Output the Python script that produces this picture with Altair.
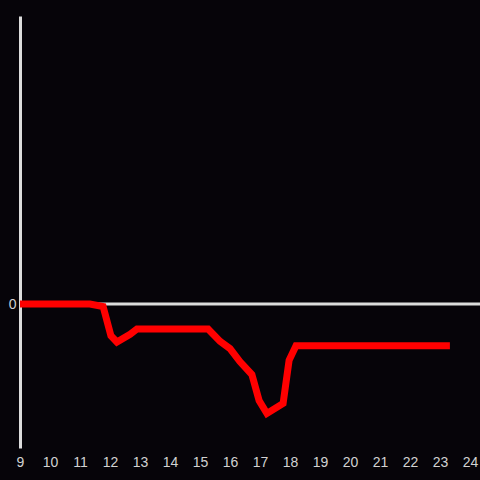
import altair as alt
import pandas as pd

hours = [9.0, 11.33, 11.77, 12.03, 12.23, 12.67, 12.9, 15.27, 15.67, 16.0,
         16.33, 16.73, 16.97, 17.23, 17.77, 17.97, 18.2, 23.33]
values = [0.0, 0.0, -0.017, -0.22, -0.264, -0.21, -0.174, -0.174, -0.26, -0.31,
          -0.40, -0.49, -0.67, -0.76, -0.69, -0.39, -0.29, -0.29]
x_ticks = list(range(9, 25))
y_ticks = [0]

df = pd.DataFrame({"hour": hours, "value": values})

FONT = "Liberation Sans"
LABEL = "#d2d2d2"
AXIS = "#dcdcdc"
BG = "#060409"

x_scale = alt.Scale(domain=[9, 24], nice=False, zero=False)
y_scale = alt.Scale(domain=[-1, 2], nice=False, zero=False)

zero_rule = alt.Chart(pd.DataFrame({"y": [0]})).mark_rule(
    color=AXIS, strokeWidth=3
).encode(
    y=alt.Y("y:Q", scale=y_scale,
            axis=alt.Axis(values=y_ticks, ticks=False, tickSize=0, grid=False,
                          title=None, domain=True, domainColor=AXIS,
                          domainWidth=3, labelColor=LABEL, labelFont=FONT,
                          labelFontSize=14, labelPadding=4, format="d")),
    x=alt.value(0),
    x2=alt.value(460),
)

line = alt.Chart(df).mark_line(color="#ff0000", strokeWidth=7, strokeJoin="miter").encode(
    x=alt.X("hour:Q", scale=x_scale,
            axis=alt.Axis(values=x_ticks, ticks=False, tickSize=0, grid=False,
                          domain=False, title=None, labelColor=LABEL,
                          labelFont=FONT, labelFontSize=14, labelPadding=7,
                          labelFlush=False, labelOverlap=False, format="d")),
    y=alt.Y("value:Q", scale=y_scale),
)

chart = alt.layer(zero_rule, line).properties(
    width=450, height=432,
    background=BG,
    padding={"left": 16, "top": 8, "right": 10, "bottom": 20},
    autosize=alt.AutoSizeParams(type="none"),
).configure_view(stroke=None)

css = ("html,body{background:%s;overflow:hidden;} "
       "body{margin:8px 0 0 4px !important;} "
       ".vega-embed svg{display:block;}" % BG)
chart.save("out.html", embed_options={"renderer": "svg", "actions": False,
                                      "defaultStyle": css})
